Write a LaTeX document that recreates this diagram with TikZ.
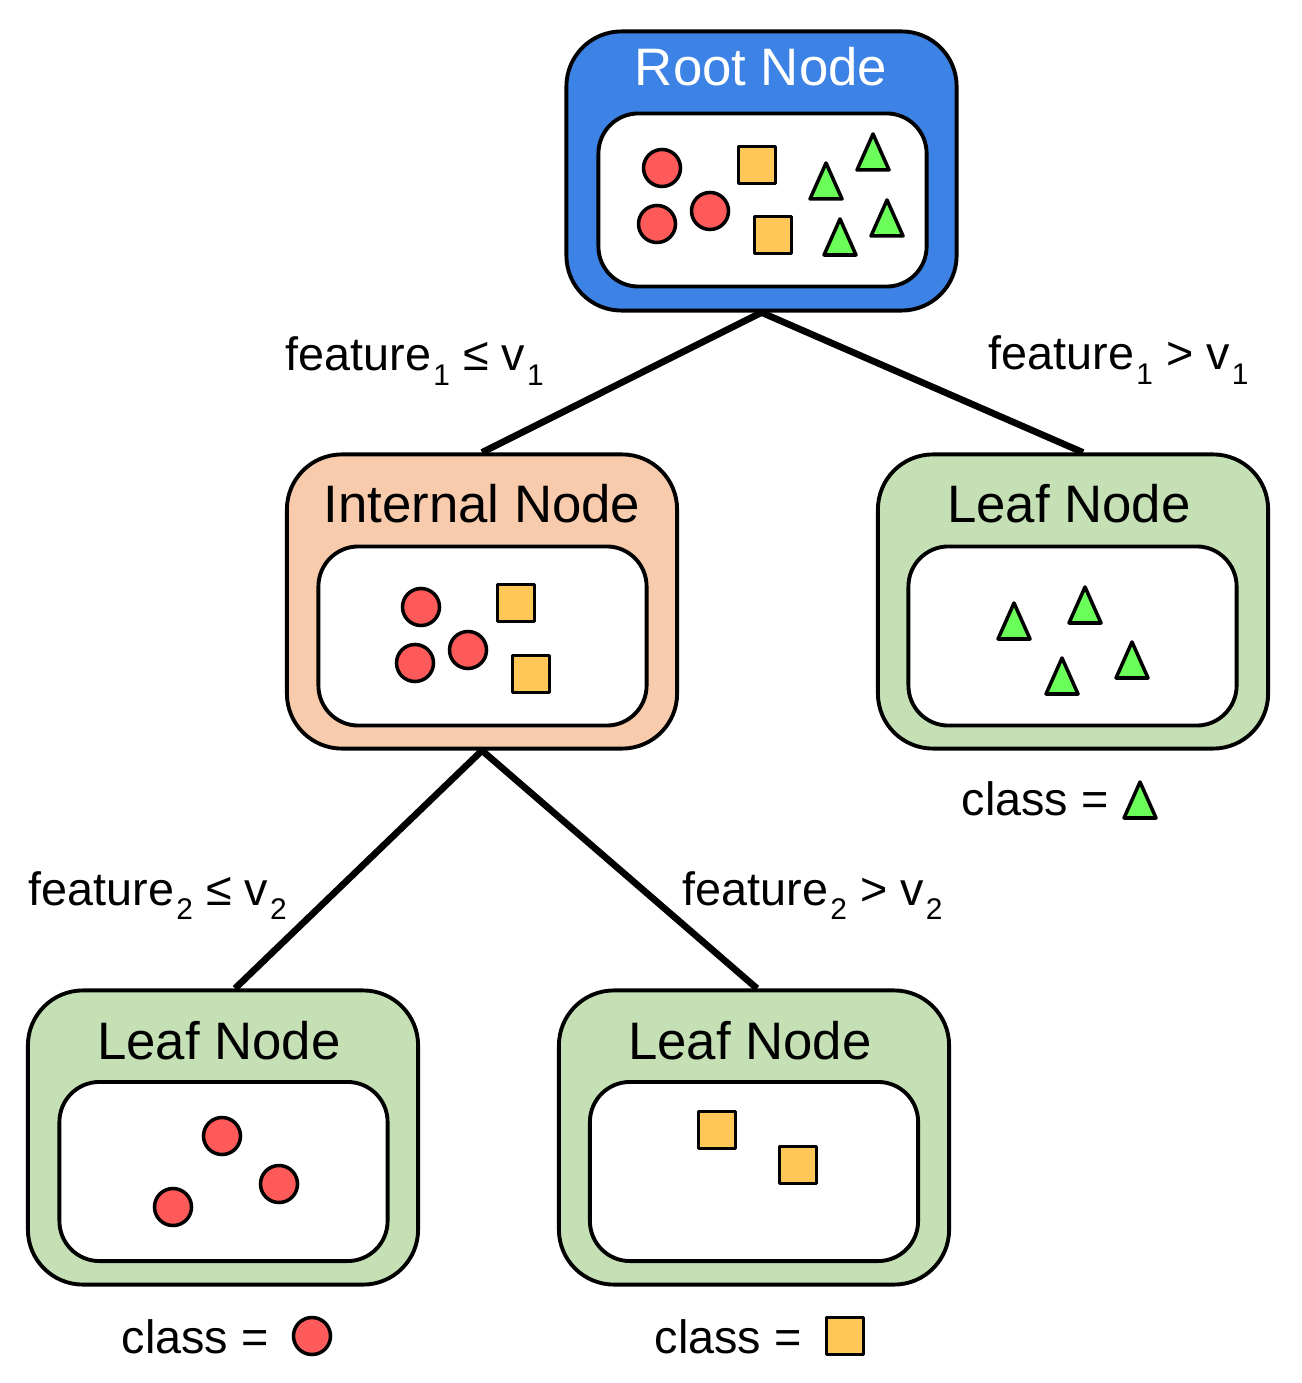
\documentclass[tikz,border=0pt]{standalone}
\usepackage{fontspec}
\setmainfont{Liberation Sans}
\usetikzlibrary{backgrounds}
\definecolor{rootblue}{HTML}{3D82E5}
\definecolor{innerpeach}{HTML}{F8CBAD}
\definecolor{leafgreen}{HTML}{C5E0B4}
\definecolor{ballred}{HTML}{FF5A5A}
\definecolor{boxgold}{HTML}{FFC658}
\definecolor{trigreen}{HTML}{6BFF5A}
\newcommand{\fsub}[1]{\kern0.6pt\raisebox{-4pt}{\fontsize{8.5}{9}\selectfont #1}}
\begin{document}
\begin{tikzpicture}[x=0.01cm, y=-0.01cm, line join=round,
    outer/.style={draw, line width=1.1pt, rounded corners=0.55cm, minimum width=3.9cm, minimum height=2.94cm, inner sep=0pt},
    inbox/.style={draw, fill=white, line width=1.1pt, rounded corners=0.4cm, minimum width=3.28cm, minimum height=1.79cm, inner sep=0pt},
    title/.style={anchor=base, inner sep=0pt, font=\fontsize{15}{18}\selectfont},
    lab/.style={anchor=base west, inner sep=0pt, font=\fontsize{13.3}{16}\selectfont},
    split/.style={line width=1.9pt},
    ball/.pic={\draw[fill=ballred, line width=1pt] (0,0) circle[radius=0.185cm];},
    sq/.pic={\draw[fill=boxgold, line width=1pt] (-18.5,-18.5) rectangle (18.5,18.5);},
    tri/.pic={\draw[fill=trigreen, line width=1pt] (-16,18) -- (16,18) -- (0,-18) -- cycle;}]
  \useasboundingbox (0,0) rectangle (1301,1383);
  % root
  \node[outer, fill=rootblue, minimum height=2.79cm] (root) at (761.5,171) {};
  \node[inbox, minimum height=1.73cm] (rootin) at (762.5,200) {};
  \node[title, text=white] (roott) at (761,86) {Root Node};
  \pic at (662,168) {ball};
  \pic at (657,224) {ball};
  \pic at (710,211) {ball};
  \pic at (757,165) {sq};
  \pic at (773,235) {sq};
  \pic at (826,181) {tri};
  \pic at (873,152) {tri};
  \pic at (840,237) {tri};
  \pic at (887,218) {tri};
  % internal
  \node[outer, fill=innerpeach] (inner) at (482,601.5) {};
  \node[inbox] (innerin) at (482.5,636) {};
  \node[title] (innert) at (482,523) {Internal Node};
  \pic at (421,607) {ball};
  \pic at (415,663) {ball};
  \pic at (468,650) {ball};
  \pic at (516,603) {sq};
  \pic at (531,674) {sq};
  % leaves
  \node[outer, fill=leafgreen] (leafR) at (1073,601.5) {};
  \node[inbox] (leafRin) at (1072.5,636) {};
  \node[title] (leafRt) at (1069,523) {Leaf Node};
  \pic at (1014,621) {tri};
  \pic at (1085,605) {tri};
  \pic at (1062,676) {tri};
  \pic at (1132,660) {tri};
  \node[outer, fill=leafgreen] (leafL) at (223,1137.5) {};
  \node[inbox] (leafLin) at (223.5,1171.5) {};
  \node[title] (leafLt) at (219,1059) {Leaf Node};
  \pic at (222,1136) {ball};
  \pic at (279,1184) {ball};
  \pic at (173,1207) {ball};
  \node[outer, fill=leafgreen] (leafM) at (754,1137.5) {};
  \node[inbox] (leafMin) at (754,1171.5) {};
  \node[title] (leafMt) at (750,1059) {Leaf Node};
  \pic at (717,1130) {sq};
  \pic at (798,1165) {sq};
  % splits
  \begin{scope}[on background layer]
    \draw[split] (root.south) -- (inner.north);
    \draw[split] (root.south) -- ([xshift=0.1cm]leafR.north);
    \draw[split] (inner.south) -- ([xshift=0.12cm]leafL.north);
    \draw[split] (inner.south) -- ([xshift=0.03cm]leafM.north);
  \end{scope}
  \node[lab] (l1) at (285,371) {feature\fsub{1} ≤ v\fsub{1}};
  \node[lab] (l2) at (988,370) {feature\fsub{1} > v\fsub{1}};
  \node[lab] (l3) at (28,905) {feature\fsub{2} ≤ v\fsub{2}};
  \node[lab] (l4) at (682,905) {feature\fsub{2} > v\fsub{2}};
  % classes
  \node[lab] (cR) at (961,815) {class =};
  \pic at (1140,800) {tri};
  \node[lab] (cL) at (121,1353) {class =};
  \pic at (312,1336) {ball};
  \node[lab] (cM) at (654,1353) {class =};
  \pic at (845,1336) {sq};
\end{tikzpicture}
\end{document}
